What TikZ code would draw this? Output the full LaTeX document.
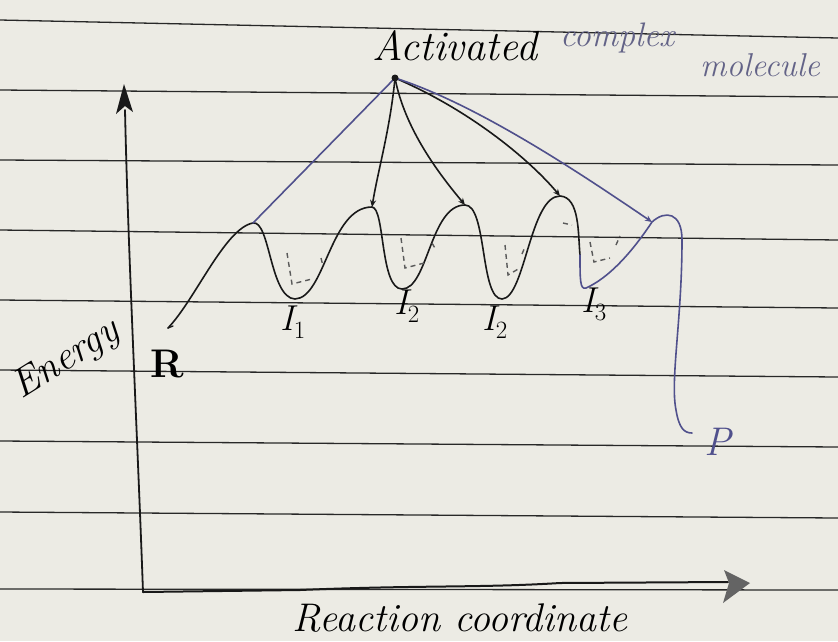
\documentclass[tikz,border=0pt]{standalone}
\usepackage{fontspec}
\usetikzlibrary{arrows.meta}
\definecolor{paper}{RGB}{236,235,228}
\definecolor{rulegray}{RGB}{40,40,40}
\definecolor{ink}{RGB}{25,25,25}
\definecolor{blueink}{RGB}{80,80,140}
\definecolor{hatchgray}{RGB}{90,90,90}
\definecolor{arrowgray}{RGB}{100,100,100}
\tikzset{
  ruled/.style={draw=rulegray, line width=1.3pt},
  inkline/.style={draw=ink, line width=1.6pt, line cap=round, line join=round},
  blueline/.style={draw=blueink, line width=1.6pt, line cap=round, line join=round},
  tipped/.style={-{Stealth[length=7pt,width=6pt]}},
  wellhatch/.style={draw=hatchgray, line width=1.4pt, dash pattern=on 5pt off 4pt},
  hand/.style={inner sep=0pt, font=\itshape\fontsize{36}{38}\selectfont}
}
\begin{document}
\begin{tikzpicture}[x=1pt,y=-1pt]
\useasboundingbox (0,0) rectangle (838,641);
\fill[paper] (0,0) rectangle (838,641);
% ruled lines of the paper
\foreach \a/\b in {20/38, 90/97, 160/165, 230/240, 300/308, 370/377, 441/447, 512/518, 589/590}
  \draw[ruled] (0,\a) -- (838,\b);

% named points
\coordinate (apex) at (395,78);
\coordinate (p1) at (253,223);
\coordinate (p2) at (372,207);
\coordinate (p3) at (465,205);
\coordinate (p4) at (560,196);
\coordinate (p5) at (652,222);
\coordinate (o) at (143,592);
\coordinate (ytip) at (124,84);
\coordinate (xtip) at (750,583);
\coordinate (rstart) at (168,328);
\coordinate (pend) at (692,433);

% axes
\draw[inkline, line width=1.8pt] (o) .. controls (138,450) and (128,250) .. (125,110);
\fill[ink] (ytip) -- (133,112) -- (125,106) -- (116,114) -- cycle;
\draw[inkline, line width=2pt] (o) -- (300,590) .. controls (420,585) and (480,588) .. (560,583) -- (728,582);
\fill[arrowgray] (xtip) -- (724,570) -- (729,583) -- (723,603) -- cycle;

% energy profile
\draw[inkline] (rstart) .. controls (195,300) and (225,228) .. (p1)
  .. controls (270,220) and (270,298) .. (295,299)
  .. controls (325,298) and (330,207) .. (p2)
  .. controls (385,208) and (380,289) .. (402,289)
  .. controls (428,289) and (430,205) .. (p3)
  .. controls (487,205) and (480,299) .. (502,299)
  .. controls (525,298) and (530,196) .. (p4)
  .. controls (580,197) and (578,235) .. (580,255);
\draw[blueline] (580,255) .. controls (580,280) and (580,290) .. (586,288)
  .. controls (615,275) and (640,240) .. (p5)
  .. controls (665,210) and (682,212) .. (682,240)
  .. controls (682,320) and (670,380) .. (676,410)
  .. controls (679,428) and (684,433) .. (pend);
\draw[inkline, line width=1.3pt] (rstart) -- (173,326);

% connectors from the activated complex
\draw[blueline] (apex) -- (p1);
\draw[inkline, tipped] (apex) .. controls (390,130) and (378,170) .. (p2);
\draw[inkline, tipped] (apex) .. controls (405,130) and (440,175) .. (p3);
\draw[inkline, tipped] (apex) .. controls (470,110) and (530,160) .. (p4);
\draw[blueline, tipped] (apex) .. controls (480,105) and (590,180) .. (p5);
\fill[ink] (apex) circle (3.5pt);

% hatching in the wells
\draw[wellhatch] (287,253) -- (292,284) -- (312,279);
\draw[wellhatch] (321,258) -- (323,266);
\draw[wellhatch] (401,238) -- (405,268) -- (428,262);
\draw[wellhatch] (432,243) -- (436,250);
\draw[wellhatch] (505,245) -- (508,275) -- (520,268);
\draw[wellhatch] (522,254) -- (525,247);
\draw[wellhatch] (590,242) -- (594,262) -- (610,258);
\draw[wellhatch] (616,245) -- (620,236);
\draw[wellhatch] (563,223) -- (572,225);

% labels
\node[hand, anchor=base west, font=\itshape\fontsize{42}{44}\selectfont] (actl) at (372,60) {Activated};
\node[hand, anchor=base west, text=blueink!60!gray, font=\itshape\fontsize{34}{36}\selectfont] (cxl) at (560,46) {complex};
\node[hand, anchor=base west, text=blueink!60!gray, font=\itshape\fontsize{33}{35}\selectfont] (mol) at (700,76) {molecule};
\node[hand, rotate=32, font=\itshape\fontsize{40}{42}\selectfont] (energy) at (66,360) {Energy};
\node[hand, font=\bfseries\fontsize{40}{42}\selectfont] (rl) at (167,364) {R};
\node[hand] (i1) at (293,322) {I$_1$};
\node[hand] (i2a) at (407,306) {I$_2$};
\node[hand] (i2b) at (495,322) {I$_2$};
\node[hand] (i3) at (594,304) {I$_3$};
\node[hand, text=blueink, font=\itshape\fontsize{40}{42}\selectfont] (pl) at (718,442) {P};
\node[hand, font=\itshape\fontsize{40}{42}\selectfont] (xl) at (460,618) {Reaction coordinate};
\end{tikzpicture}
\end{document}
